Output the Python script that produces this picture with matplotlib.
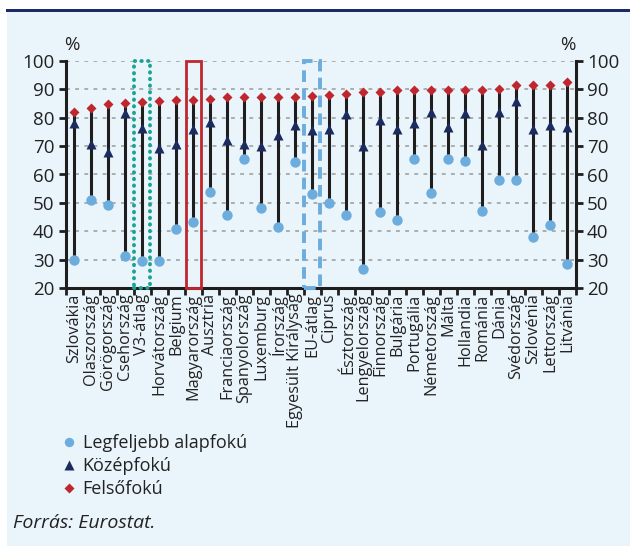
import matplotlib
matplotlib.use("Agg")
import matplotlib.pyplot as plt
from matplotlib.patches import Rectangle
import numpy as np

plt.rcParams['font.family'] = ['Open Sans', 'DejaVu Sans']

categories = ["Szlovákia", "Olaszország", "Görögország", "Csehország", "V3-átlag",
              "Horvátország", "Belgium", "Magyarország", "Ausztria", "Franciaország",
              "Spanyolország", "Luxemburg", "Írország", "Egyesült Királyság", "EU-átlag",
              "Ciprus", "Észtország", "Lengyelország", "Finnország", "Bulgária",
              "Portugália", "Németország", "Málta", "Hollandia", "Románia",
              "Dánia", "Svédország", "Szlovénia", "Lettország", "Litvánia"]
alap = [30.0, 50.9, 49.3, 31.3, 29.4, 29.4, 40.8, 43.4, 53.8, 45.6,
        65.3, 48.1, 41.5, 64.4, 53.2, 50.1, 45.9, 26.8, 46.7, 43.9,
        65.4, 53.4, 65.4, 64.9, 47.3, 57.9, 58.1, 37.8, 42.2, 28.3]
kozep = [78.0, 70.7, 67.8, 81.5, 76.5, 69.5, 70.7, 76.1, 78.6, 72.1,
         70.7, 70.0, 73.9, 77.3, 75.6, 76.1, 81.2, 70.2, 79.2, 76.0,
         78.1, 82.0, 76.6, 81.8, 70.5, 82.1, 86.0, 75.9, 77.3, 76.6]
felso = [82.1, 83.3, 85.0, 85.3, 85.6, 85.9, 86.2, 86.2, 86.6, 87.2,
         87.2, 87.2, 87.4, 87.4, 87.8, 88.0, 88.4, 89.1, 89.1, 89.7,
         89.8, 89.8, 89.8, 89.8, 89.8, 90.1, 91.4, 91.6, 91.6, 92.7]
yticks = [20, 30, 40, 50, 60, 70, 80, 90, 100]
legend_labels = ["Legfeljebb alapfokú", "Középfokú", "Felsőfokú"]
source_text = "Forrás: Eurostat."

BG = "#EAF4FB"
C_ALAP = "#6CADDE"
C_KOZEP = "#1B2B5E"
C_FELSO = "#C0262D"
TXT = "#222222"

fig = plt.figure(figsize=(6.3, 5.46), dpi=100)
fig.patch.set_facecolor("white")
fig.patches.append(Rectangle((7/630, 0), 1, 1 - 11/546, transform=fig.transFigure,
                             facecolor=BG, edgecolor="none", zorder=-10))
fig.patches.append(Rectangle((6/630, 1 - 12/546), 1, 3/546, transform=fig.transFigure,
                             facecolor="#1B2A68", edgecolor="none", zorder=-9))

ax = fig.add_axes([65.7/630, 1 - 288/546, 510/630, 227/546])
ax.set_facecolor(BG)
x = np.arange(len(categories))
lo = np.minimum.reduce([alap, kozep, felso])
hi = np.maximum.reduce([alap, kozep, felso])
ax.vlines(x, lo, hi, color="#1E1E1E", lw=2.2, zorder=2)
l1, = ax.plot(x, alap, 'o', color=C_ALAP, ms=7.5, mec="none", zorder=3, label=legend_labels[0])
l2, = ax.plot(x, kozep, '^', color=C_KOZEP, ms=7.5, mec="none", zorder=4, label=legend_labels[1])
l3, = ax.plot(x, felso, 'D', color=C_FELSO, ms=5.5, mec="none", zorder=5, label=legend_labels[2])

ax.set_xlim(-0.5, len(categories) - 0.5)
ax.set_ylim(20, 100)
ax.set_yticks(yticks)
for v in yticks[1:]:
    ax.axhline(v, color="#9A9A9A", lw=1.1, ls=(0, (2.5, 3.5)), zorder=1)

ax.set_xticks(x)
ax.set_xticklabels(categories, rotation=90, fontsize=11.7, color=TXT)
ax.set_xticks(np.arange(-0.5, len(categories)), minor=True)
ax.tick_params(axis='x', which='major', length=0, pad=4)
ax.tick_params(axis='x', which='minor', length=5, width=2, color="#1E1E1E", direction='out')
ax.tick_params(axis='y', which='major', left=True, right=True, labelleft=True, labelright=True,
               length=5, width=2, color="#1E1E1E", direction='out', labelsize=13.5,
               labelcolor=TXT, pad=3)
for s in ["left", "right", "bottom"]:
    ax.spines[s].set_linewidth(2.2)
    ax.spines[s].set_color("#1E1E1E")
ax.spines["top"].set_visible(False)

# highlight boxes
ax.add_patch(Rectangle((4 - 0.47, 20), 0.94, 80, fill=False, edgecolor="#1AA392", lw=2.8,
                       ls=(0, (0.1, 1.6)), capstyle='round', clip_on=False, zorder=6))
ax.add_patch(Rectangle((7 - 0.45, 20), 0.9, 80, fill=False, edgecolor="#C0262D", lw=2,
                       clip_on=False, zorder=6))
ax.add_patch(Rectangle((14 - 0.47, 20), 0.94, 80, fill=False, edgecolor="#6CADDE", lw=2.8,
                       ls=(0, (3, 1.6)), clip_on=False, zorder=6))

fig.text(72/630, 1 - 45/546, "%", ha="center", va="center", fontsize=13.5, color=TXT)
fig.text(568/630, 1 - 45/546, "%", ha="center", va="center", fontsize=13.5, color=TXT)

leg = fig.legend(handles=[l1, l2, l3], loc="upper left", bbox_to_anchor=(64.5/630, 1 - 434/546),
                 frameon=False, fontsize=13, handlelength=0.5, handletextpad=0.5,
                 labelspacing=0.28, borderaxespad=0, borderpad=0, markerscale=0.9)
for t in leg.get_texts():
    t.set_color(TXT)

fig.text(13/630, 1 - 523/546, source_text, ha="left", va="center", fontsize=14,
         style="italic", color=TXT)

fig.savefig("out.png", dpi=100, facecolor=fig.get_facecolor())
